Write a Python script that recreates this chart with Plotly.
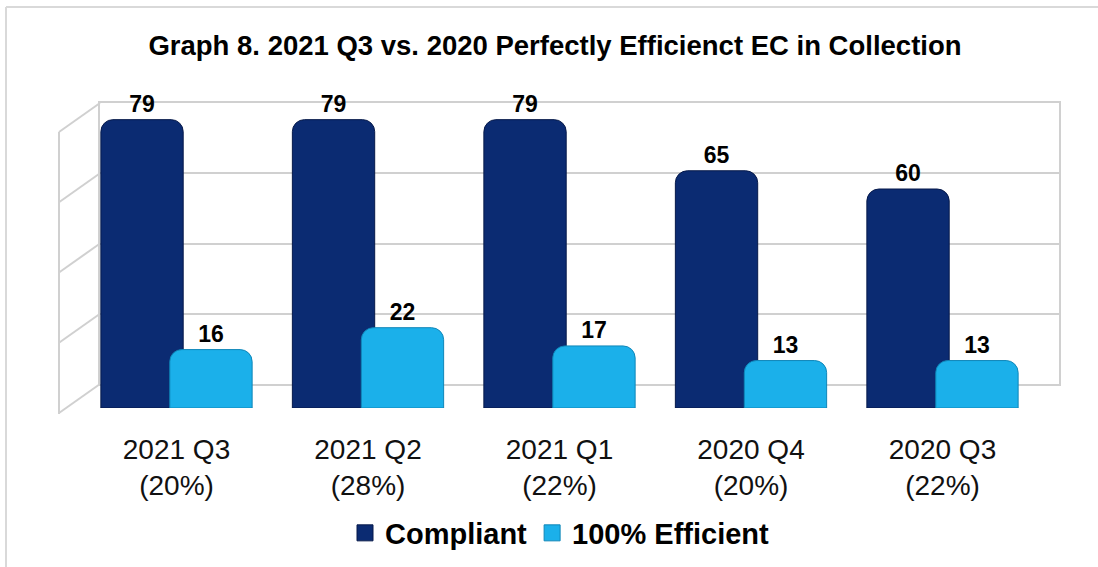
import plotly.graph_objects as go

# ---- data ----
categories = ["2021 Q3<br>(20%)", "2021 Q2<br>(28%)", "2021 Q1<br>(22%)",
              "2020 Q4<br>(20%)", "2020 Q3<br>(22%)"]
series_names = ["Compliant", "100% Efficient"]
compliant = [79, 79, 79, 65, 60]
efficient = [16, 22, 17, 13, 13]
grid_ticks = [0, 20, 40, 60, 80]
title_text = "Graph 8. 2021 Q3 vs. 2020 Perfectly Efficienct EC in Collection"

# ---- layout geometry (pixels) ----
W, H = 1098, 567
AL, AR, AT, AB = 55, 1065, 100, 410          # overall plotting area
PW, PH = AR - AL, AB - AT

def px2x(px):
    return (px - AL) / PW

def px2y(py):
    return (AB - py) / PH

bars_x = [px2x(80.75), px2x(1038.25)]
bars_y = [px2y(408), px2y(408 - 80 * 3.65)]
wall_x = [px2x(100), px2x(1059)]
wall_y = [px2y(384), px2y(103)]

C_COMP = "#0B2B72"
C_EFF = "#1BB0EA"
EDGE_COMP = "#06194A"
EDGE_EFF = "#0F86B8"
GRID = "#D0D0D0"
FONT = "Liberation Sans, Arial, sans-serif"

fig = go.Figure()

# back wall (gridlines only) on the primary axes, drawn first
fig.add_trace(go.Scatter(x=[0], y=[0], xaxis="x", yaxis="y", mode="markers",
                         marker=dict(opacity=0), showlegend=False, hoverinfo="skip"))

lab_font = dict(family=FONT, size=23, color="#000000", weight="bold")
xs = list(range(len(categories)))
fig.add_trace(go.Bar(
    name=series_names[0], x=xs, y=compliant, xaxis="x2", yaxis="y2",
    legendgroup="c", showlegend=False,
    width=0.43, offset=-0.395,
    marker=dict(color=C_COMP, line=dict(color=EDGE_COMP, width=1)),
    text=compliant, textposition="outside", constraintext="none",
    textfont=lab_font, cliponaxis=False,
))
fig.add_trace(go.Bar(
    name=series_names[1], x=xs, y=efficient, xaxis="x2", yaxis="y2",
    legendgroup="e", showlegend=False,
    width=0.43, offset=-0.035,
    marker=dict(color=C_EFF, line=dict(color=EDGE_EFF, width=1)),
    text=efficient, textposition="outside", constraintext="none",
    textfont=lab_font, cliponaxis=False,
))
# legend entries with square swatches
for nm, col, edge, grp in [(series_names[0], C_COMP, EDGE_COMP, "c"),
                           (series_names[1], C_EFF, EDGE_EFF, "e")]:
    fig.add_trace(go.Scatter(
        name=nm, x=[None], y=[None], xaxis="x2", yaxis="y2", mode="markers",
        legendgroup=grp,
        marker=dict(symbol="square", size=16, color=col, line=dict(color=edge, width=1)),
        hoverinfo="skip",
    ))

shapes = []
# side wall: slanted lines from back wall gridlines to the front
wall_scale = (384 - 103) / 80.0
for v in grid_ticks:
    yb = 384 - v * wall_scale
    shapes.append(dict(type="line", xref="paper", yref="paper", layer="below",
                       x0=px2x(100), y0=px2y(yb), x1=px2x(59), y1=px2y(yb + 29),
                       line=dict(color=GRID, width=2)))
shapes.append(dict(type="line", xref="paper", yref="paper", layer="below",
                   x0=px2x(59), y0=px2y(103 + 29), x1=px2x(59), y1=px2y(384 + 30),
                   line=dict(color=GRID, width=2)))
# outer chart border (top and left edges visible)
shapes.append(dict(type="line", xref="paper", yref="paper", layer="below",
                   x0=px2x(6), y0=px2y(7), x1=px2x(1110), y1=px2y(7),
                   line=dict(color="#D9D9D9", width=2)))
shapes.append(dict(type="line", xref="paper", yref="paper", layer="below",
                   x0=px2x(6), y0=px2y(7), x1=px2x(6), y1=px2y(580),
                   line=dict(color="#D9D9D9", width=2)))

fig.update_layout(
    width=W, height=H,
    margin=dict(l=AL, r=W - AR, t=AT, b=H - AB, autoexpand=False),
    paper_bgcolor="white", plot_bgcolor="rgba(0,0,0,0)",
    barmode="overlay", barcornerradius=12,
    font=dict(family=FONT, color="#000000"),
    title=dict(text=title_text, x=555 / W, xref="container", xanchor="center",
               y=1 - 45 / H, yref="container", yanchor="middle",
               font=dict(family=FONT, size=27.5, color="#000000", weight="bold")),
    xaxis=dict(domain=wall_x, range=[0, 1], anchor="y", showgrid=False,
               zeroline=False, showticklabels=False, showline=True, mirror=True,
               linecolor=GRID, linewidth=2),
    yaxis=dict(domain=wall_y, range=[0, 80], anchor="x", tickvals=grid_ticks,
               showgrid=True, gridcolor=GRID, gridwidth=2, zeroline=False,
               showticklabels=False, showline=True, mirror=True,
               linecolor=GRID, linewidth=2),
    xaxis2=dict(domain=bars_x, range=[-0.5, len(categories) - 0.5], anchor="y2",
                tickvals=xs, ticktext=categories,
                tickfont=dict(family=FONT, size=28, color="#111111"),
                ticklabelstandoff=22,
                showgrid=False, zeroline=False, showline=False, ticks=""),
    yaxis2=dict(domain=bars_y, range=[0, 80], anchor="x2", showgrid=False,
                zeroline=False, showticklabels=False, showline=False),
    legend=dict(orientation="h", x=px2x(560), xanchor="center", xref="paper",
                y=px2y(533), yanchor="middle",
                font=dict(family=FONT, size=29, color="#000000", weight="bold"),
                bgcolor="rgba(0,0,0,0)"),
    shapes=shapes,
)

fig.write_html("out.html", config={"displayModeBar": False},
               post_script="document.body.style.margin='0px';document.body.style.padding='0px';")
